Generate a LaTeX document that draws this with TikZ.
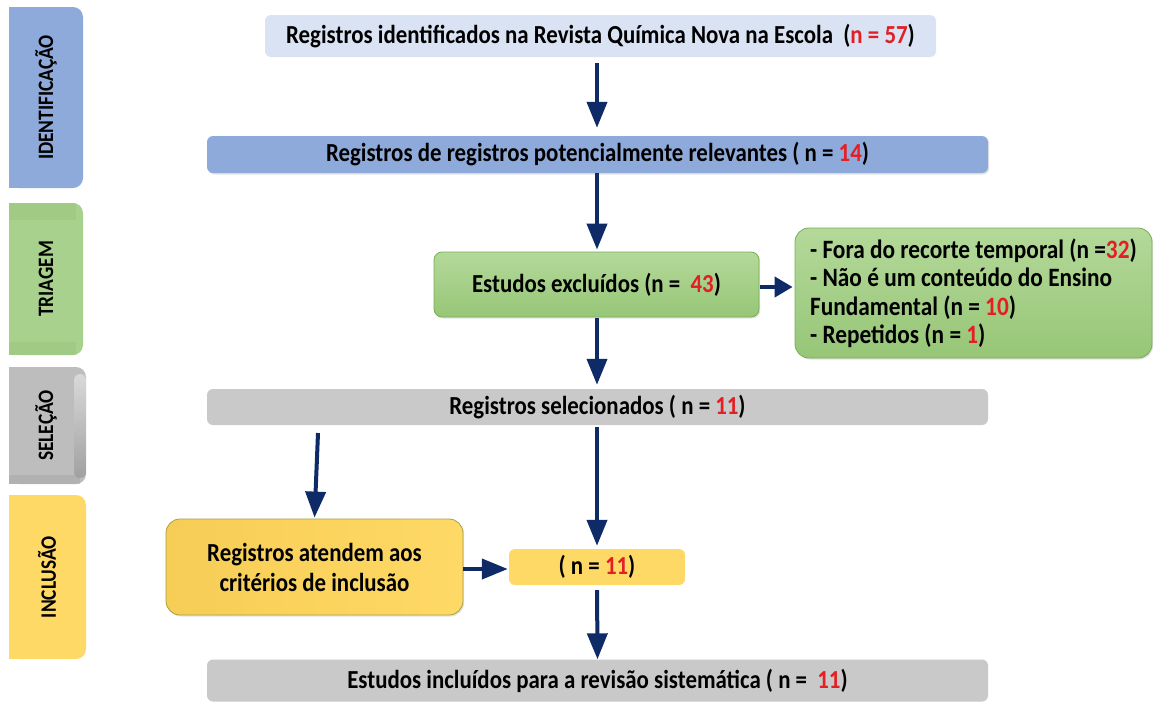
\documentclass[tikz,border=0pt]{standalone}
\usepackage{fontspec}
\setmainfont{Carlito}[FakeStretch=0.88]
\usetikzlibrary{arrows.meta,shadows}
\definecolor{navy}{HTML}{0E2B68}
\definecolor{idblue}{HTML}{8EAADB}
\definecolor{lightblue}{HTML}{DAE3F3}
\definecolor{trgreen}{HTML}{A9D18E}
\definecolor{trgreenD}{HTML}{93BF74}
\definecolor{gtop}{HTML}{B4D99A}
\definecolor{gbot}{HTML}{97C677}
\definecolor{gborder}{HTML}{78AE52}
\definecolor{greybox}{HTML}{C9C9C9}
\definecolor{selgrey}{HTML}{BDBDBD}
\definecolor{selgreyL}{HTML}{D9D9D9}
\definecolor{yel}{HTML}{FFD966}
\definecolor{yelD}{HTML}{F6CD55}
\definecolor{yelL}{HTML}{FDEBB2}
\definecolor{yborder}{HTML}{A9A044}
\definecolor{numred}{HTML}{E31E24}
\newcommand{\rn}[1]{\textcolor{numred}{#1}}
\begin{document}
\begin{tikzpicture}[x=1pt,y=-1pt,
  phaselabel/.style={rotate=90, font=\fontsize{22}{24}\selectfont\bfseries, text=black},
  box/.style={rounded corners=6pt, font=\fontsize{26}{29}\selectfont\bfseries, text=black, inner sep=0pt, align=center},
  softshadow/.style={drop shadow={opacity=0.22, shadow xshift=1.2pt, shadow yshift=-1.5pt}},
  arr/.style={draw=navy, line width=4pt, -{Triangle[length=26pt,width=20pt]}},
  arrshort/.style={draw=navy, line width=4pt, -{Triangle[length=18pt,width=20pt]}}
]
\useasboundingbox (0,0) rectangle (1155,702);
\fill[white] (0,0) rectangle (1155,702);

% ---- phase bars ----
\fill[idblue, rounded corners=10pt] (9,7) rectangle (83,188);
\fill[idblue] (9,7) rectangle (40,188);
\node[phaselabel] (pid) at (46,97.5) {IDENTIFICAÇÃO};

\fill[trgreen, rounded corners=10pt] (9,203) rectangle (83,355);
\fill[trgreen] (9,203) rectangle (40,355);
\fill[trgreenD, opacity=0.35] (9,203) rectangle (76,220);
\fill[trgreenD, opacity=0.35] (9,342) rectangle (76,355);
\node[phaselabel] (ptr) at (46,279) {TRIAGEM};

\fill[selgrey, rounded corners=10pt] (9,367) rectangle (86,484);
\fill[selgrey] (9,367) rectangle (40,484);
\shade[top color=selgreyL, bottom color=selgrey!85!black, rounded corners=6pt] (74,374) rectangle (86,478);
\fill[selgrey!85!black, opacity=0.4] (9,475) rectangle (80,484);
\node[phaselabel] (pse) at (46,425.5) {SELEÇÃO};

\fill[yel, rounded corners=10pt] (9,495) rectangle (86,659);
\fill[yel] (9,495) rectangle (40,659);
\node[phaselabel] (pin) at (47,577) {INCLUSÃO};

% ---- main boxes ----
\node[box, fill=lightblue, minimum width=671pt, minimum height=42pt] (b1) at (600.5,36)
  {Registros identificados na Revista Química Nova na Escola\ \ (\rn{n = 57})};
\node[box, fill=idblue, minimum width=781pt, minimum height=37pt, softshadow] (b2) at (597.5,154.5)
  {Registros de registros potencialmente relevantes ( n = \rn{14})};
\node[box, top color=gtop, bottom color=gbot, draw=gborder, line width=0.8pt, rounded corners=8pt,
  minimum width=325pt, minimum height=65pt, softshadow] (ex1) at (596.5,284.5)
  {Estudos excluídos (n =\ \ \rn{43})};
\node[box, top color=gtop, bottom color=gbot, draw=gborder, line width=0.8pt, rounded corners=14pt,
  minimum width=357pt, minimum height=130pt, align=left, softshadow,
  font=\fontsize{26.5}{28.5}\selectfont\bfseries] (ex2) at (973.5,293)
  {- Fora do recorte temporal (n =\rn{32})\\- Não é um conteúdo do Ensino\\Fundamental (n = \rn{10})\\- Repetidos (n = \rn{1})};
\node[box, fill=greybox, minimum width=781pt, minimum height=36pt] (sel) at (597.5,407)
  {Registros selecionados ( n = \rn{11})};
\node[box, left color=yelD, middle color=yelL, right color=yel, draw=yborder, line width=0.8pt,
  rounded corners=14pt, minimum width=297pt, minimum height=96pt, softshadow,
  font=\fontsize{26}{30}\selectfont\bfseries] (inc1) at (314.5,567)
  {Registros atendem aos\\critérios de inclusão};
\node[box, fill=yel, minimum width=176pt, minimum height=36pt] (inc2) at (597,567)
  {( n = \rn{11})};
\node[box, fill=greybox, minimum width=781pt, minimum height=42pt] (fin) at (597.5,680.5)
  {Estudos incluídos para a revisão sistemática ( n =\ \ \rn{11})};

% ---- connectors ----
\coordinate (s1) at (318,433);
\draw[arr, shorten <=6pt, shorten >=8pt] (b1.south -| inc2.north) -- (b2.north -| inc2.north);
\draw[arr, shorten >=2pt] (b2.south -| inc2.north) -- (ex1.north -| inc2.north);
\draw[arrshort, shorten <=1pt, shorten >=2pt] ([yshift=-2.5pt]ex1.east) -- ([yshift=-2.5pt]ex1.east -| ex2.west);
\draw[arr, shorten <=1pt, shorten >=4pt] (ex1.south -| inc2.north) -- (sel.north -| inc2.north);
\draw[arr, shorten <=2pt, shorten >=3pt] (sel.south -| inc2.north) -- (inc2.north);
\draw[arr, shorten >=1pt] (s1) -- (inc1.north);
\draw[arr, shorten >=1pt] ([yshift=-2pt]inc1.east) -- ([yshift=-2pt]inc2.west);
\draw[arr, shorten <=5pt] (inc2.south) -- (fin.north);
\end{tikzpicture}
\end{document}
